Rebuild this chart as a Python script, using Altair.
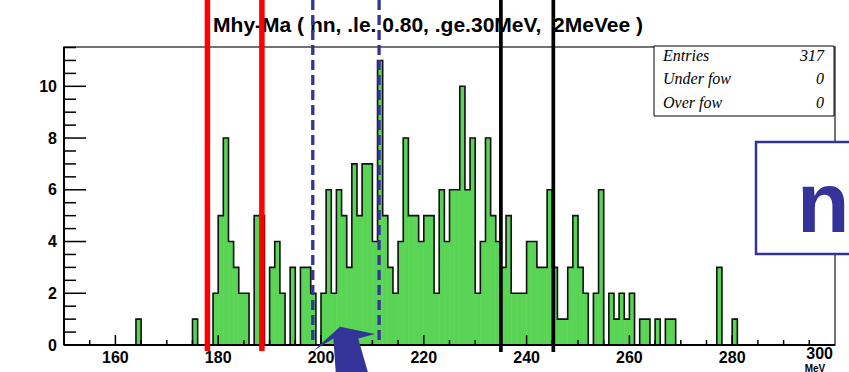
import altair as alt
import pandas as pd

# Filled 1 MeV bins of the Mhy-Ma histogram: lower bin edge and entries
bin_low = [164, 175, 179, 180, 181, 182, 183, 184, 185, 187, 188,
           190, 191, 192, 194, 196, 197, 198,
           200, 201, 202, 203, 204, 205, 206, 207, 208, 209,
           210, 211, 212, 213, 214, 215, 216, 217, 218, 219,
           220, 221, 222, 223, 224, 225, 226, 227, 228, 229,
           230, 231, 232, 233, 234, 235, 236, 237, 238, 239,
           240, 241, 242, 243, 244, 245, 246, 247, 248, 249,
           250, 251, 253, 254, 256, 257, 258, 259,
           260, 262, 263, 265, 267, 268, 277, 280]
entries = [1, 1, 2, 5, 8, 4, 3, 2, 2, 5, 5,
           3, 4, 2, 3, 3, 3, 2,
           2, 6, 2, 6, 5, 3, 7, 5, 7, 7,
           4, 11, 5, 3, 2, 4, 8, 5, 5, 4,
           5, 5, 2, 6, 4, 6, 6, 10, 6, 8,
           2, 4, 8, 5, 4, 3, 5, 2, 2, 2,
           4, 4, 3, 3, 6, 3, 1, 1, 3, 5,
           3, 2, 2, 6, 2, 1, 2, 1,
           2, 1, 1, 1, 1, 1, 3, 1]

# Cut positions (MeV)
red_cuts = [177.9, 188.5]
blue_cuts = [198.4, 211.3]
black_cuts = [235.0, 245.2]

x_labels = [160, 180, 200, 220, 240, 260, 280, 300]
y_labels = [0, 2, 4, 6, 8, 10]

title_text = "Mhy-Ma ( nn, .le. 0.80, .ge.30MeV,\u00a0\u00a02MeVee )"
stat_names = ["Entries", "Under fow", "Over fow"]
stat_vals = [str(sum(entries)), "0", "0"]
stat_rows_y = [14, 37, 60.5]

W, H = 771, 298
FONT = "Liberation Sans"
BLUE = "#333399"
GREEN = "#59d454"

xs = alt.Scale(domain=[150, 300], nice=False, zero=False, padding=0)
ys = alt.Scale(domain=[0, 11.52], nice=False, zero=True, padding=0)

hist = pd.DataFrame({"lo": bin_low, "n": entries})
hist["hi"] = hist["lo"] + 1
hist["base"] = 0

counts = dict(zip(bin_low, entries))
edges = list(range(150, 301))
outline = pd.DataFrame({"e": edges, "n": [counts.get(e, 0) for e in edges]})

one = pd.DataFrame({"k": [0]})

# filled bins
bars = alt.Chart(hist).mark_bar(
    color=GREEN, stroke=GREEN, strokeWidth=0.6, orient="vertical"
).encode(
    x=alt.X("lo:Q", scale=xs, axis=None),
    x2="hi:Q",
    y=alt.Y("n:Q", scale=ys, axis=None),
    y2="base:Q",
)

# step contour of the histogram
contour = alt.Chart(outline).mark_line(
    interpolate="step-after", color="#111111", strokeWidth=1.6
).encode(
    x=alt.X("e:Q", scale=xs, axis=None),
    y=alt.Y("n:Q", scale=ys, axis=None),
)

# axis lines
left_axis = alt.Chart(one).mark_rule(color="black", strokeWidth=2).encode(
    x=alt.value(0), y=alt.value(0), y2=alt.value(H))
bottom_axis = alt.Chart(one).mark_rule(color="black", strokeWidth=2).encode(
    x=alt.value(0), x2=alt.value(W), y=alt.value(H))

# inward tick marks
y_major = pd.DataFrame({"v": y_labels})
y_minor = pd.DataFrame({"v": [k * 0.5 for k in range(1, 24) if k % 4 != 0]})
x_major = pd.DataFrame({"v": x_labels[:-1]})
x_minor = pd.DataFrame({"v": [v for v in range(155, 300, 5) if v % 20 != 0]})

ytick_major = alt.Chart(y_major).mark_rule(color="black", strokeWidth=1.5).encode(
    y=alt.Y("v:Q", scale=ys, axis=None), x=alt.value(0), x2=alt.value(22))
ytick_minor = alt.Chart(y_minor).mark_rule(color="black", strokeWidth=1.5).encode(
    y=alt.Y("v:Q", scale=ys, axis=None), x=alt.value(0), x2=alt.value(12))
xtick_major = alt.Chart(x_major).mark_rule(color="black", strokeWidth=1.5).encode(
    x=alt.X("v:Q", scale=xs, axis=None), y=alt.value(H), y2=alt.value(H - 10))
xtick_minor = alt.Chart(x_minor).mark_rule(color="black", strokeWidth=1.5).encode(
    x=alt.X("v:Q", scale=xs, axis=None), y=alt.value(H), y2=alt.value(H - 5))

# tick labels
lab_style = dict(font=FONT, fontWeight="bold", fontSize=16, color="black",
                 baseline="alphabetic")
xlab = alt.Chart(pd.DataFrame({"v": x_labels[:-1]})).mark_text(
    align="center", **lab_style
).encode(x=alt.X("v:Q", scale=xs, axis=None), y=alt.value(H + 17.5), text="v:Q")
xlab_last = alt.Chart(pd.DataFrame({"v": x_labels[-1:]})).mark_text(
    align="right", dx=-2, **lab_style
).encode(x=alt.X("v:Q", scale=xs, axis=None), y=alt.value(H + 14), text="v:Q")
ylab = alt.Chart(y_major).mark_text(
    align="right", dx=-7, dy=5.5, **lab_style
).encode(x=alt.value(0), y=alt.Y("v:Q", scale=ys, axis=None), text="v:Q")

title = alt.Chart(one).mark_text(
    text=title_text, font=FONT, fontWeight="bold", fontSize=21,
    align="center", baseline="alphabetic", color="black"
).encode(x=alt.value(364), y=alt.value(-15))

mev = alt.Chart(one).mark_text(
    text="MeV", font=FONT, fontWeight="bold", fontSize=10,
    align="center", baseline="alphabetic", color="black"
).encode(x=alt.value(751), y=alt.value(324.5))

# cut lines
red = alt.Chart(pd.DataFrame({"c": red_cuts})).mark_rule(
    color="#ff0000", strokeWidth=5.5
).encode(x=alt.X("c:Q", scale=xs, axis=None), y=alt.value(-47), y2=alt.value(304))

blue = alt.Chart(pd.DataFrame({"c": blue_cuts})).mark_rule(
    color=BLUE, strokeWidth=3.3, strokeDash=[10, 5]
).encode(x=alt.X("c:Q", scale=xs, axis=None), y=alt.value(-47), y2=alt.value(298))

black = alt.Chart(pd.DataFrame({"c": black_cuts})).mark_rule(
    color="black", strokeWidth=3.7
).encode(x=alt.X("c:Q", scale=xs, axis=None), y=alt.value(-47), y2=alt.value(305))

# statistics box
stat_box = alt.Chart(one).mark_rect(
    fill="white", stroke="black", strokeWidth=1
).encode(x=alt.value(590), x2=alt.value(770), y=alt.value(-1), y2=alt.value(69))

stat_layers = []
for name, val, py in zip(stat_names, stat_vals, stat_rows_y):
    stat_layers.append(alt.Chart(one).mark_text(
        text=name, font="Liberation Serif", fontStyle="italic", fontSize=16,
        align="left", baseline="alphabetic", color="black"
    ).encode(x=alt.value(599), y=alt.value(py)))
    stat_layers.append(alt.Chart(one).mark_text(
        text=val, font="Liberation Serif", fontStyle="italic", fontSize=16,
        align="right", baseline="alphabetic", color="black"
    ).encode(x=alt.value(760), y=alt.value(py)))

# boxed "n" label
n_box = alt.Chart(one).mark_rect(
    fill="white", stroke=BLUE, strokeWidth=2.5
).encode(x=alt.value(692), x2=alt.value(830), y=alt.value(95), y2=alt.value(207))
n_txt = alt.Chart(one).mark_text(
    text="n", font=FONT, fontWeight="bold", fontSize=86, align="left",
    baseline="alphabetic", color=BLUE
).encode(x=alt.value(733), y=alt.value(185))

# block arrow pointing at the 200 MeV region
arrow_path = ("M-0.79,0.02 L-0.125,-0.58 L0.75,-0.4 L0.33,-0.29 "
              "L0.6,0.65 L-0.225,0.65 L-0.29,-0.29 Z")
arrow = alt.Chart(one).mark_point(
    shape=arrow_path, filled=True, fill=BLUE, strokeWidth=0, opacity=1, size=6400
).encode(x=alt.value(281), y=alt.value(303))

chart = alt.layer(
    bars, contour, left_axis, bottom_axis, title,
    ytick_major, ytick_minor, xtick_major, xtick_minor,
    xlab, xlab_last, ylab,
    red, blue, black, stat_box, *stat_layers,
    n_box, n_txt, arrow, mev
).properties(
    width=W, height=H,
    padding={"left": 64, "top": 47, "right": 14, "bottom": 27},
    autosize=alt.AutoSizeParams(type="none"),
    background="white",
).configure_view(stroke="#444444", strokeWidth=1.5)

chart.save("out.html", embed_options={"renderer": "svg", "actions": False})
